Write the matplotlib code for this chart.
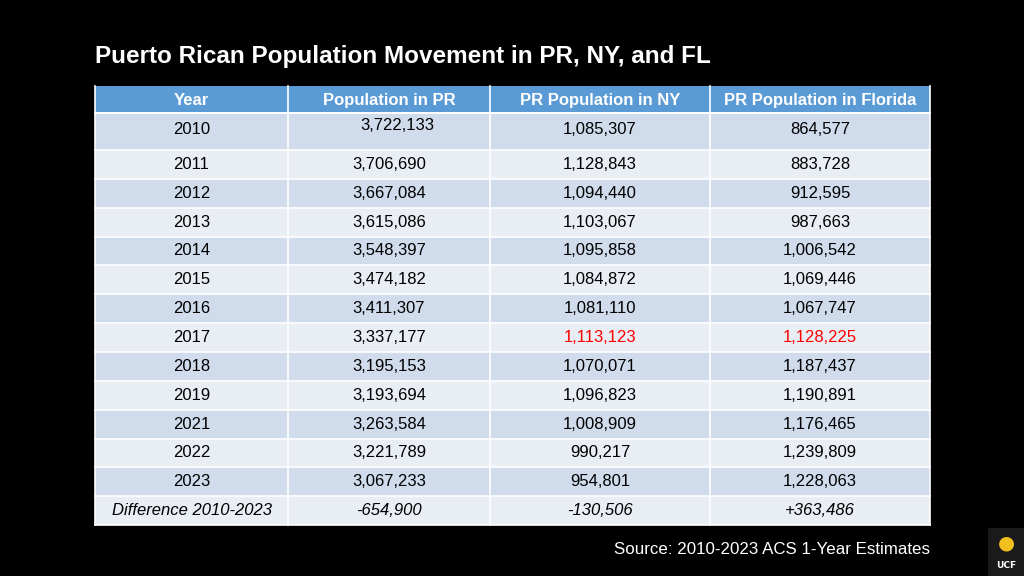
import matplotlib.pyplot as plt
from matplotlib.patches import Rectangle

headers = ['Year', 'Population in PR', 'PR Population in NY', 'PR Population in Florida']
years = ['2010', '2011', '2012', '2013', '2014', '2015', '2016', '2017', '2018', '2019',
         '2021', '2022', '2023', 'Difference 2010-2023']
pop_pr = ['3,722,133', '3,706,690', '3,667,084', '3,615,086', '3,548,397', '3,474,182',
          '3,411,307', '3,337,177', '3,195,153', '3,193,694', '3,263,584', '3,221,789',
          '3,067,233', '-654,900']
pop_ny = ['1,085,307', '1,128,843', '1,094,440', '1,103,067', '1,095,858', '1,084,872',
          '1,081,110', '1,113,123', '1,070,071', '1,096,823', '1,008,909', '990,217',
          '954,801', '-130,506']
pop_fl = ['864,577', '883,728', '912,595', '987,663', '1,006,542', '1,069,446',
          '1,067,747', '1,128,225', '1,187,437', '1,190,891', '1,176,465', '1,239,809',
          '1,228,063', '+363,486']

fig = plt.figure(figsize=(10.24, 5.76), dpi=100, facecolor='black')
ax = fig.add_axes([0, 0, 1, 1])
ax.set_xlim(0, 1024)
ax.set_ylim(576, 0)
ax.axis('off')

col_x = [95, 288, 490, 710, 930]
head_top, head_bot = 86, 113
row_tops = [113, 150]
for i in range(13):
    row_tops.append(row_tops[-1] + 28.85)

# header
ax.add_patch(Rectangle((col_x[0], head_top), col_x[-1] - col_x[0], head_bot - head_top,
                       facecolor='#5B9BD5', edgecolor='none'))
for j, h in enumerate(headers):
    ax.text((col_x[j] + col_x[j + 1]) / 2, (head_top + head_bot) / 2 + 1, h,
            ha='center', va='center', color='white', fontsize=12, fontweight='bold',
            family='Liberation Sans')

cols = [years, pop_pr, pop_ny, pop_fl]
for i in range(len(years)):
    top, bot = row_tops[i], row_tops[i + 1]
    fc = '#D0DBEC' if i % 2 == 0 else '#E9EDF4'
    ax.add_patch(Rectangle((col_x[0], top), col_x[-1] - col_x[0], bot - top,
                           facecolor=fc, edgecolor='none'))
    yc = top + 16 if i == 0 else (top + bot) / 2
    for j in range(4):
        color = 'red' if (i == 7 and j >= 2) else 'black'
        style = 'italic' if i == len(years) - 1 else 'normal'
        xc = (col_x[j] + col_x[j + 1]) / 2
        if i == 0 and j == 1:
            xc += 8
            yc2 = top + 13
        else:
            yc2 = yc
        ax.text(xc, yc2, cols[j][i], ha='center', va='center', color=color,
                fontsize=12, style=style, family='Liberation Sans')

# grid lines
for y in [head_bot] + row_tops:
    ax.plot([col_x[0], col_x[-1]], [y, y], color='white', lw=1.2)
for x in col_x:
    ax.plot([x, x], [head_top, row_tops[-1]], color='white', lw=1.2)

ax.text(95, 56, 'Puerto Rican Population Movement in PR, NY, and FL', color='white',
        fontsize=17.5, fontweight='bold', ha='left', va='center', family='Liberation Sans')
ax.text(930, 550, 'Source: 2010-2023 ACS 1-Year Estimates', color='white',
        fontsize=12.2, ha='right', va='center', family='Liberation Sans')

ax.add_patch(Rectangle((988, 528), 36, 48, facecolor='#1a1a1a', edgecolor='none'))
ax.text(1006, 543, '\u25cf', color='#F2C01E', fontsize=14, ha='center', va='center')
ax.text(1006, 565, 'UCF', color='white', fontsize=6.5, fontweight='bold',
        ha='center', va='center')

fig.savefig('out.png', dpi=100, facecolor='black')
